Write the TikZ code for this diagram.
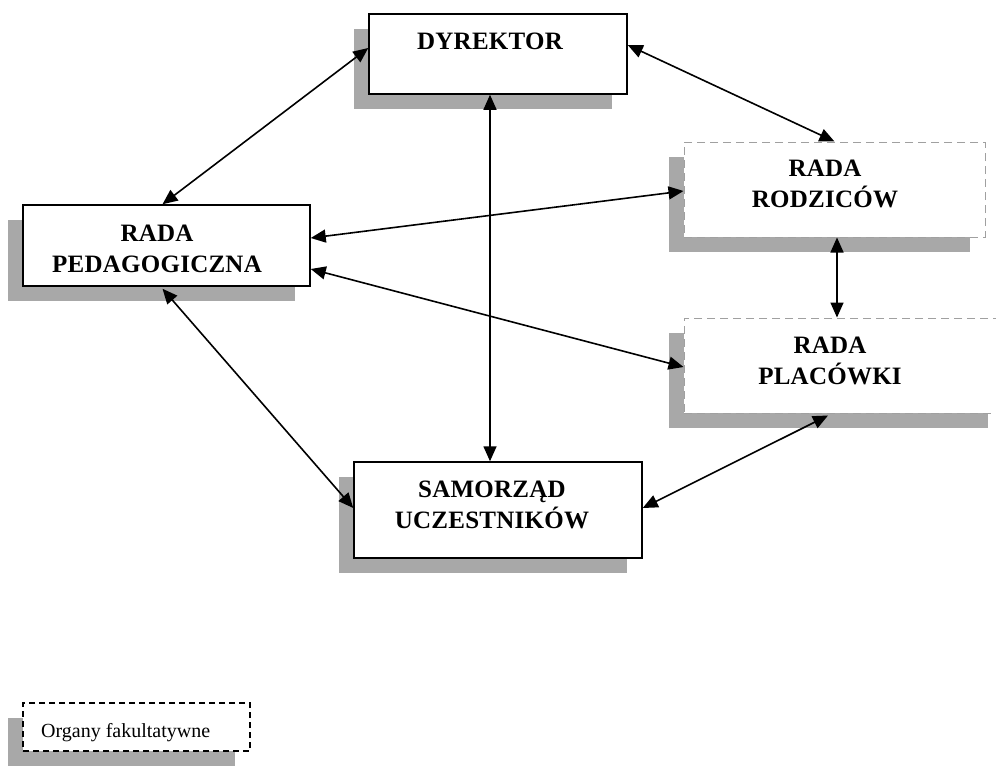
\documentclass[tikz,border=0pt]{standalone}
\usepackage{fontspec}
\setmainfont{Liberation Serif}
\usetikzlibrary{arrows.meta,shadows,calc}
\definecolor{shgray}{RGB}{168,168,168}
\definecolor{dashgray}{RGB}{160,160,160}
\tikzset{
  box/.style={rectangle, fill=white, inner sep=0pt,
    drop shadow={shadow xshift=-15pt, shadow yshift=-15pt, fill=shgray, opacity=1}},
  solidbox/.style={box, draw=black, line width=1.5pt},
  optbox/.style={box, draw=dashgray, line width=1pt, dash pattern=on 8pt off 5pt},
  legbox/.style={box, draw=black, line width=1.5pt, dash pattern=on 6pt off 4pt},
  lbl/.style={inner sep=0pt, align=center,
    font=\bfseries\fontsize{25}{31}\selectfont\addfontfeature{LetterSpace=1}},
  link/.style={{Triangle[length=15pt,width=13pt]}-{Triangle[length=15pt,width=13pt]}, line width=1.6pt}
}
\begin{document}
\begin{tikzpicture}[x=1pt,y=-1pt]
\useasboundingbox (0,0) rectangle (996,769);
% boxes
\node[solidbox, minimum width=258pt, minimum height=80pt] (dyr) at (498,54) {};
\node[optbox, minimum width=301pt, minimum height=95pt] (rod) at (834.5,189.5) {};
\node[optbox, minimum width=319pt, minimum height=95pt] (pla) at (843.5,365.5) {};
\node[solidbox, minimum width=287pt, minimum height=81pt] (ped) at (166.5,245.5) {};
\node[solidbox, minimum width=288pt, minimum height=96pt] (sam) at (498,510) {};
\node[legbox, minimum width=227pt, minimum height=48pt] (leg) at (136.5,727) {};
% texts
\node[lbl] (tdyr) at (490,41) {DYREKTOR};
\node[lbl] (trod) at (825,184) {RADA\\RODZICÓW};
\node[lbl] (tpla) at (830,361) {RADA\\PLACÓWKI};
\node[lbl] (tped) at (157,248.5) {RADA\\PEDAGOGICZNA};
\node[lbl] (tsam) at (492,505) {SAMORZĄD\\UCZESTNIKÓW};
\node[inner sep=0pt, anchor=base west, font=\fontsize{20}{24}\selectfont] (tleg) at (41,737) {Organy fakultatywne};
% connectors
\draw[link] ($(dyr.west)+(0,-6)$) -- ($(ped.north)+(-4,0)$);
\draw[link] ($(dyr.east)+(0,-9)$) -- (rod.north);
\draw[link] ($(dyr.south)+(-8,0)$) -- ($(sam.north)+(-8,0)$);
\draw[link] ($(ped.east)+(0,-7.5)$) -- ($(rod.west)+(0,1.5)$);
\draw[link] ($(ped.east)+(0,23.5)$) -- ($(pla.west)+(0,1.5)$);
\draw[link] ($(ped.south)+(-4,2)$) -- ($(sam.west)+(0,-2)$);
\draw[link] ($(rod.south)+(2.5,0)$) -- ($(pla.north)+(-6.5,0)$);
\draw[link] ($(pla.south)+(-15.5,2)$) -- ($(sam.east)+(0,-2)$);
\end{tikzpicture}
\end{document}
